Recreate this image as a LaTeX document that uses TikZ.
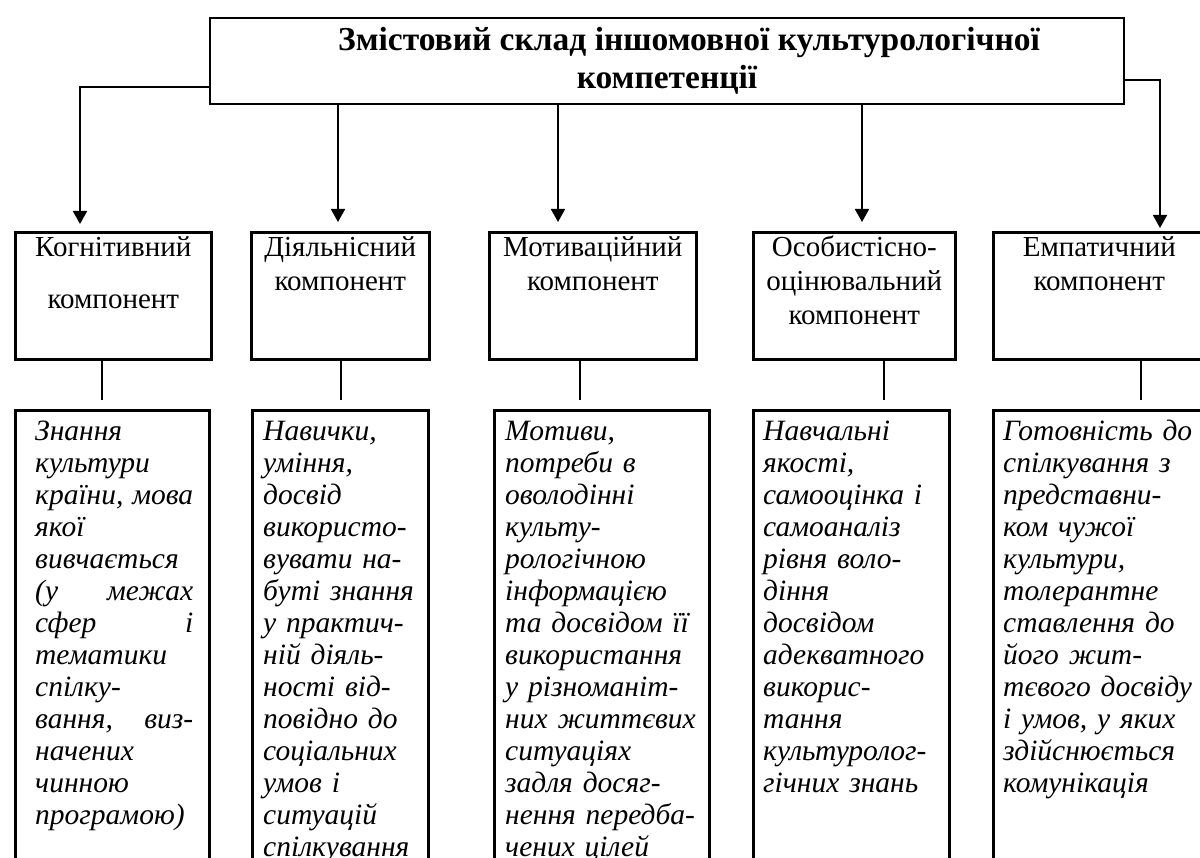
\documentclass[tikz,border=0pt]{standalone}
\usepackage{fontspec}
\setmainfont{Liberation Serif}
\usetikzlibrary{positioning,arrows.meta}

\begin{document}
\begin{tikzpicture}[x=1pt, y=-1pt]
    % Define styles
    \tikzstyle{titlebox} = [rectangle, draw=black, line width=2.6pt, inner sep=0pt, minimum width=914pt, minimum height=86pt, align=center, font=\bfseries\fontsize{33.5}{38}\selectfont]
    \tikzstyle{compbox} = [rectangle, draw=black, line width=2.6pt, inner sep=0pt, minimum height=127pt, anchor=north west]
    \tikzstyle{descbox} = [rectangle, draw=black, line width=2.6pt, inner sep=0pt, minimum height=470pt, anchor=north west]
    \tikzstyle{comptext} = [inner sep=0pt, text width=200pt, align=center, font=\fontsize{29}{34}\selectfont, execute at begin node=\strut]
    \tikzstyle{desctext} = [inner sep=0pt, align=left, font=\itshape\fontsize{29.5}{32}\selectfont, execute at begin node=\strut]
    \tikzstyle{arrow} = [line width=1.8pt, -{Triangle[width=14pt,length=13pt]}]
    \tikzstyle{link} = [line width=1.8pt]

    \useasboundingbox (0,0) rectangle (1200,858);
    \clip (0,0) rectangle (1200,858);

    % Top box
    \node [titlebox] (title) at (667,61) {\hspace*{44pt}Змістовий склад іншомовної культурологічної\\ компетенції};

    % Components
    \node [compbox, minimum width=196pt] (c1) at (14,231) {};
    \node [compbox, minimum width=178pt] (c2) at (250,231) {};
    \node [compbox, minimum width=207pt] (c3) at (488,231) {};
    \node [compbox, minimum width=202pt] (c4) at (752,231) {};
    \node [compbox, minimum width=212pt] (c5) at (992,231) {};

    \node [comptext, below=2pt of c1.north] (t1) {Когнітивний\\[18pt] компонент};
    \node [comptext, below=2pt of c2.north] (t2) {Діяльнісний\\ компонент};
    \node [comptext, below=2pt of c3.north] (t3) {Мотиваційний\\ компонент};
    \node [comptext, below=2pt of c4.north] (t4) {Особистісно-\\ оцінювальний\\ компонент};
    \node [comptext, below=2pt of c5.north] (t5) {Емпатичний\\ компонент};

    % Descriptions
    \node [descbox, minimum width=194pt] (d1) at (14,409) {};
    \node [descbox, minimum width=176pt] (d2) at (251,409) {};
    \node [descbox, minimum width=215pt] (d3) at (493,409) {};
    \node [descbox, minimum width=196pt] (d4) at (752,409) {};
    \node [descbox, minimum width=212pt] (d5) at (992,409) {};

    \node [desctext, text width=158pt, below right=8.6pt and 21pt of d1.north west] (s1) {Знання\\ культури\\ країни,\hfill мова\\ якої\\ вивчається\\ (у\hfill межах\\ сфер\hfill і\\ тематики\\ спілку-\\ вання,\hfill виз-\\ начених\\ чинною\\ програмою)};
    \node [desctext, text width=160pt, below right=8.6pt and 12pt of d2.north west] (s2) {Навички,\\ уміння,\\ досвід\\ використо-\\ вувати на-\\ буті знання\\ у практич-\\ ній діяль-\\ ності від-\\ повідно до\\ соціальних\\ умов і\\ ситуацій\\ спілкування};
    \node [desctext, text width=200pt, below right=8.6pt and 12pt of d3.north west] (s3) {Мотиви,\\ потреби в\\ оволодінні\\ культу-\\ рологічною\\ інформацією\\ та досвідом її\\ використання\\ у різноманіт-\\ них життєвих\\ ситуаціях\\ задля досяг-\\ нення передба-\\ чених цілей};
    \node [desctext, text width=180pt, below right=8.6pt and 11pt of d4.north west] (s4) {Навчальні\\ якості,\\ самооцінка і\\ самоаналіз\\ рівня воло-\\ діння\\ досвідом\\ адекватного\\ викорис-\\ тання\\ культуролог-\\ гічних знань};
    \node [desctext, text width=200pt, below right=8.6pt and 11pt of d5.north west] (s5) {Готовність до\\ спілкування з\\ представни-\\ ком чужої\\ культури,\\ толерантне\\ ставлення до\\ його жит-\\ тєвого досвіду\\ і умов, у яких\\ здійснюється\\ комунікація};

    % Arrows from the top box
    \coordinate (a1) at (80,224);
    \coordinate (a2) at (338,222);
    \coordinate (a3) at (558,222);
    \coordinate (a4) at (862,222);
    \coordinate (a5) at (1160,228);
    \draw [arrow] ([yshift=-26pt]title.west) -| (a1);
    \draw [arrow] (title.south -| a2) -- (a2);
    \draw [arrow] (title.south -| a3) -- (a3);
    \draw [arrow] (title.south -| a4) -- (a4);
    \draw [arrow] ([yshift=-19pt]title.east) -| (a5);

    % Lines between the rows
    \coordinate (e1) at (102,400);
    \coordinate (e2) at (341,400);
    \coordinate (e3) at (580,400);
    \coordinate (e4) at (884,400);
    \coordinate (e5) at (1141,400);
    \draw [link] (c1.south -| e1) -- (e1);
    \draw [link] (c2.south -| e2) -- (e2);
    \draw [link] (c3.south -| e3) -- (e3);
    \draw [link] (c4.south -| e4) -- (e4);
    \draw [link] (c5.south -| e5) -- (e5);
\end{tikzpicture}
\end{document}
